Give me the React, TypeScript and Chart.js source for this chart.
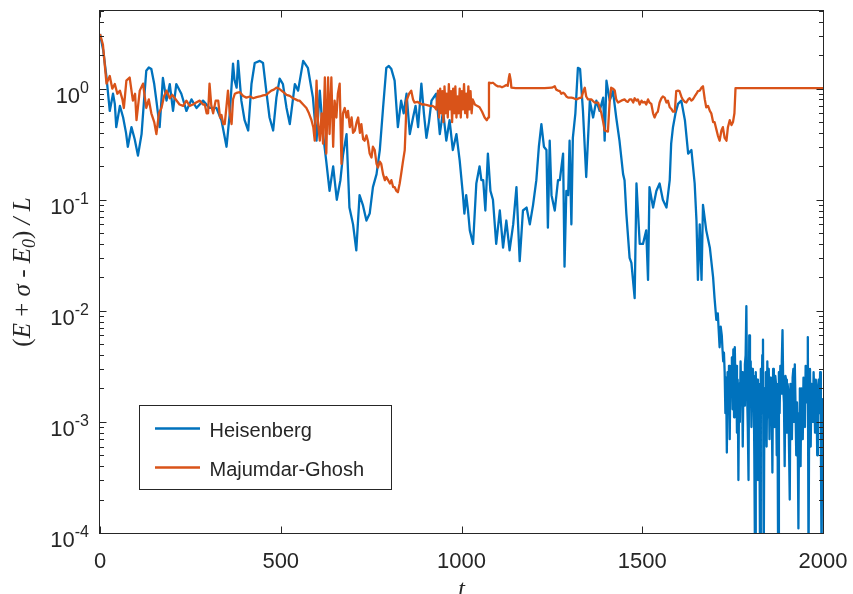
import React, { useEffect, useRef } from "react";
import { Chart, registerables } from "chart.js";

Chart.register(...registerables);

// ---------------- data ----------------
const seriesNames = ["Heisenberg", "Majumdar-Ghosh"];
const seriesColors = ["#0072BD", "#D95319"];

const heisT = [
  0, 9, 18, 27, 36, 41, 45, 55, 64, 72,
  77, 87, 96, 105, 115, 122, 128, 135, 142, 150,
  156, 165, 174, 184, 193, 202, 211, 225, 239, 253,
  267, 285, 303, 322, 336, 350, 359, 368, 372, 378,
  382, 391, 400, 410, 419, 428, 442, 451, 460, 469,
  479, 488, 497, 506, 516, 525, 539, 548, 562, 575,
  589, 599, 608, 617, 626, 635, 645, 655, 665, 672,
  682, 690, 700, 709, 718, 727, 737, 746, 755, 765,
  774, 783, 792, 799, 806, 815, 824, 833, 840, 848,
  857, 866, 873, 880, 889, 896, 903, 910, 917, 930,
  940, 949, 958, 967, 976, 986, 995, 1004, 1008, 1013,
  1018, 1023, 1032, 1041, 1050, 1055, 1060, 1066, 1073, 1080,
  1087, 1096, 1106, 1115, 1124, 1133, 1143, 1152, 1161, 1170,
  1180, 1189, 1198, 1207, 1214, 1221, 1228, 1235, 1239, 1244,
  1249, 1258, 1267, 1272, 1281, 1285, 1290, 1295, 1299, 1304,
  1308, 1315, 1322, 1328, 1336, 1345, 1355, 1364, 1373, 1382,
  1392, 1396, 1401, 1410, 1419, 1428, 1437, 1447, 1451, 1456,
  1465, 1470, 1479, 1484, 1493, 1502, 1511, 1516, 1520, 1530,
  1539, 1548, 1557, 1567, 1576, 1580, 1585, 1592, 1599, 1608,
  1618, 1627, 1636, 1645, 1650, 1654, 1659, 1664, 1668, 1677,
  1687, 1696, 1700, 1705, 1709, 1714, 1717,
  1720, 1722, 1724, 1726, 1728, 1730, 1732, 1734, 1736, 1738,
  1740, 1742, 1744, 1746, 1748, 1750, 1752, 1754, 1756, 1758,
  1760, 1762, 1764, 1766, 1768, 1770, 1772, 1774, 1776, 1778,
  1780, 1782, 1784, 1786, 1788, 1790, 1792, 1794, 1796, 1798,
  1800, 1802, 1804, 1806, 1808, 1810, 1812, 1814, 1816, 1818,
  1820, 1822, 1824, 1826, 1828, 1830, 1832, 1834, 1836, 1838,
  1840, 1842, 1844, 1846, 1848, 1850, 1852, 1854, 1856, 1858,
  1860, 1862, 1864, 1866, 1868, 1870, 1872, 1874, 1876, 1878,
  1880, 1882, 1884, 1886, 1888, 1890, 1892, 1894, 1896, 1898,
  1900, 1902, 1904, 1906, 1908, 1910, 1912, 1914, 1916, 1918,
  1920, 1922, 1924, 1926, 1928, 1930, 1932, 1934, 1936, 1938,
  1940, 1942, 1944, 1946, 1948, 1950, 1952, 1954, 1956, 1958,
  1960, 1962, 1964, 1966, 1968, 1970, 1972, 1974, 1976, 1978,
  1980, 1982, 1984, 1986, 1988, 1990, 1992, 1994, 1996, 1998,
  2000,
];

const heisV = [
  3.1, 2.2, 1.26, 0.63, 0.9, 0.73, 0.45, 0.7, 0.55, 0.4,
  0.3, 0.45, 0.35, 0.25, 0.39, 0.8, 1.45, 1.55, 1.5, 1.1,
  0.78, 0.45, 1.25, 0.78, 1.1, 0.63, 1.1, 0.9, 0.63, 0.8,
  0.67, 0.78, 0.67, 0.67, 0.52, 0.3, 0.6, 1.68, 1.2, 1.02,
  1.78, 0.78, 0.52, 0.42, 1.1, 1.7, 1.78, 1.7, 0.95, 0.55,
  0.42, 0.83, 1.23, 1.1, 0.67, 0.48, 1.1, 0.96, 1.78, 1.54,
  0.83, 0.34, 0.96, 0.39, 0.22, 0.12, 0.2, 0.1, 0.15, 0.25,
  0.39, 0.085, 0.06, 0.035, 0.11, 0.09, 0.065, 0.075, 0.13, 0.17,
  0.28, 0.67, 1.54, 1.6, 1.5, 1.18, 0.45, 0.78, 0.6, 0.9,
  0.39, 0.55, 0.7, 0.45, 1.11, 0.6, 0.36, 0.5, 0.78, 0.9,
  0.39, 0.63, 0.34, 0.52, 0.28, 0.39, 0.225, 0.11, 0.075, 0.11,
  0.08, 0.053, 0.04, 0.14, 0.2, 0.15, 0.15, 0.08, 0.26, 0.12,
  0.1, 0.04, 0.08, 0.037, 0.065, 0.035, 0.06, 0.13, 0.028, 0.08,
  0.085, 0.06, 0.09, 0.15, 0.3, 0.48, 0.3, 0.28, 0.056, 0.34,
  0.11, 0.08, 0.15, 0.15, 0.26, 0.025, 0.12, 0.11, 0.34, 0.06,
  0.36, 0.6, 1.54, 1.5, 0.63, 0.16, 0.78, 0.55, 0.78, 0.63,
  0.83, 0.34, 1.18, 0.78, 0.95, 0.55, 0.34, 0.17, 0.15, 0.075,
  0.03, 0.027, 0.013, 0.14, 0.04, 0.04, 0.053, 0.019, 0.13, 0.085,
  0.12, 0.14, 0.1, 0.085, 0.15, 0.32, 0.45, 0.6, 0.73, 0.78,
  0.52, 0.26, 0.28, 0.14, 0.065, 0.019, 0.06, 0.019, 0.09, 0.053,
  0.037, 0.02, 0.013, 0.0083, 0.0095, 0.0047, 0.0072,
  0.006, 0.0045, 0.0035, 0.0042, 0.0028, 0.0012, 0.0025, 0.00053, 0.0028, 0.0016,
  0.0032, 0.0007, 0.003, 0.0018, 0.0038, 0.0013, 0.0045, 0.0011, 0.0047, 0.002,
  0.0032, 0.0008, 0.0024, 0.0003, 0.0022, 0.001, 0.0035, 0.0016, 0.0028, 0.0006,
  0.0025, 0.0014, 0.0033, 0.004, 0.011, 0.0018, 0.0009, 0.0003, 0.006, 0.0022,
  0.0035, 0.0009, 0.003, 0.0015, 0.0026, 0.0005, 0.00005, 0.0028, 0.0012, 0.0024,
  0.0003, 0.0022, 0.0009, 0.00005, 0.003, 0.0012, 0.004, 0.0055, 0.00005, 0.002,
  0.0008, 0.0028, 0.0006, 0.0035, 0.0011, 0.003, 0.0007, 0.0025, 0.0012, 0.0018,
  0.00035, 0.003, 0.0014, 0.0009, 0.0026, 0.0022, 0.0005, 0.0015, 0.00005, 0.0028,
  0.0012, 0.0032, 0.0018, 0.0035, 0.0067, 0.002, 0.0015, 0.0004, 0.0026, 0.0024,
  0.0008, 0.0022, 0.0019, 0.0006, 0.0002, 0.0022, 0.0012, 0.0007, 0.0025, 0.003,
  0.001, 0.0033, 0.0014, 0.0005, 0.0015, 0.0008, 0.00011, 0.0012, 0.002, 0.0004,
  0.002, 0.001, 0.0007, 0.0025, 0.0016, 0.0009, 0.0032, 0.002, 0.0015, 0.0058,
  0.00005, 0.0018, 0.003, 0.0006, 0.0022, 0.0014, 0.001, 0.0028, 0.0018, 0.0008,
  0.0024, 0.002, 0.0005, 0.0016, 0.0024, 0.0012, 0.0028, 0.0009, 0.00005, 0.0016,
  0.0007,
];

const mgT = [
  0, 8, 18, 27, 34, 41, 48, 55, 62, 66,
  73, 82, 91, 97, 101, 110, 119, 128, 135, 142,
  150, 156, 163, 170, 177, 184, 193, 200, 207, 220,
  230, 239, 248, 257, 266, 276, 285, 290, 295, 299,
  303, 308, 313, 320, 327, 332, 336, 341, 345, 350,
  354, 359, 364, 368, 373, 380, 387, 396, 405, 415,
  424, 433, 442, 451, 460, 467, 474, 481, 488, 495,
  502, 509, 516, 525, 534, 541, 548, 552, 562, 571,
  578, 585, 590, 594, 599, 603, 608, 613, 617, 622,
  626, 631, 635, 640, 645, 649, 654, 658, 663, 668,
  672, 677, 682, 686, 691, 696, 700, 705, 710, 714,
  719, 723, 728, 732, 737, 741, 746, 751, 755, 760,
  765, 769, 774, 778, 783, 788, 792, 797, 802, 806,
  811, 815, 820, 824, 829, 833, 838, 843, 846, 848,
  855, 861, 866, 870, 878, 885, 891, 898, 905, 912,
  919, 926, 930, 935, 938, 941, 944, 947, 950, 953,
  956, 959, 962, 965, 968, 971, 974, 977, 980, 983,
  986, 989, 992, 995, 998, 1001, 1004, 1007, 1010, 1013,
  1016, 1019, 1022, 1025, 1028, 1031, 1037, 1043, 1050, 1057,
  1064, 1070, 1074, 1076, 1082, 1087, 1094, 1100, 1106, 1112,
  1118, 1124, 1128, 1131, 1133, 1136, 1138, 1150, 1170, 1200,
  1230, 1250, 1258, 1262, 1267, 1272, 1276, 1281, 1285, 1290,
  1295, 1304, 1310, 1318, 1325, 1332, 1337, 1341, 1345, 1350,
  1359, 1368, 1378, 1387, 1392, 1396, 1405, 1410, 1414, 1419,
  1424, 1428, 1433, 1442, 1451, 1456, 1460, 1465, 1470, 1475,
  1479, 1484, 1488, 1493, 1498, 1502, 1507, 1511, 1516, 1520,
  1525, 1530, 1534, 1539, 1543, 1548, 1553, 1557, 1562, 1567,
  1571, 1576, 1580, 1585, 1590, 1594, 1599, 1603, 1608, 1612,
  1618, 1622, 1627, 1631, 1636, 1640, 1645, 1650, 1654, 1659,
  1664, 1668, 1673, 1677, 1682, 1687, 1691, 1696, 1700, 1705,
  1709, 1714, 1719, 1723, 1728, 1733, 1737, 1742, 1747, 1751,
  1755, 1758, 2000,
];

const mgV = [
  3.1, 2.5, 1.11, 1.3, 1.0, 1.1, 0.9, 0.96, 0.8, 0.67,
  1.18, 1.26, 0.78, 0.9, 0.52, 0.96, 1.11, 0.67, 0.8, 0.6,
  0.5, 0.39, 0.6, 0.67, 0.85, 0.96, 0.82, 0.88, 0.82, 0.72,
  0.7, 0.78, 0.7, 0.72, 0.75, 0.78, 0.72, 0.72, 0.6, 0.6,
  1.11, 0.7, 0.6, 0.78, 0.78, 0.55, 0.58, 0.48, 0.48, 0.7,
  0.96, 0.6, 0.48, 0.8, 0.9, 0.92, 0.93, 0.86, 0.83, 0.85,
  0.82, 0.84, 0.85, 0.87, 0.88, 0.92, 0.96, 0.98, 1.02, 1.0,
  0.96, 0.92, 0.88, 0.86, 0.82, 0.8, 0.78, 0.78, 0.72, 0.67,
  0.6, 0.52, 0.45, 0.34, 1.18, 0.5, 0.34, 0.6, 0.32, 1.26,
  0.26, 1.26, 0.39, 1.26, 0.3, 0.78, 0.55, 0.9, 1.11, 0.21,
  0.6, 0.67, 0.55, 0.63, 0.45, 0.55, 0.4, 0.42, 0.5, 0.55,
  0.4, 0.48, 0.35, 0.34, 0.38, 0.34, 0.26, 0.24, 0.3, 0.28,
  0.21, 0.195, 0.22, 0.21, 0.17, 0.15, 0.16, 0.15, 0.14, 0.15,
  0.13, 0.13, 0.12, 0.117, 0.14, 0.17, 0.22, 0.28, 0.5, 0.78,
  0.9, 0.96, 0.8, 0.75, 0.76, 0.74, 0.72, 0.72, 0.71, 0.7,
  0.7, 0.68, 0.65, 0.96, 0.55, 1.0, 0.6, 0.95, 0.5, 1.05,
  0.6, 0.9, 0.55, 1.1, 0.65, 0.95, 0.5, 1.0, 0.6, 1.05,
  0.55, 0.85, 0.6, 1.0, 0.55, 0.95, 0.65, 1.1, 0.6, 0.9,
  0.55, 1.05, 0.65, 0.95, 0.6, 0.8, 0.72, 0.7, 0.68, 0.62,
  0.55, 0.52, 0.55, 1.13, 1.12, 1.13, 1.08, 1.05, 1.05, 1.03,
  1.05, 1.08, 1.06, 1.25, 1.35, 1.2, 1.02, 1.01, 1.01, 1.01,
  1.01, 1.02, 1.05, 0.98, 0.96, 0.95, 0.9, 0.92, 0.9, 0.85,
  0.83, 0.83, 0.82, 0.8, 0.82, 0.83, 0.95, 1.02, 0.85, 0.8,
  0.8, 0.75, 0.75, 0.6, 0.5, 0.42, 0.41, 0.78, 1.02, 1.0,
  0.96, 0.8, 0.75, 0.78, 0.8, 0.77, 0.76, 0.8, 0.8, 0.75,
  0.82, 0.78, 0.8, 0.72, 0.78, 0.75, 0.76, 0.72, 0.8, 0.75,
  0.73, 0.6, 0.55, 0.6, 0.62, 0.75, 0.82, 0.85, 0.83, 0.75,
  0.78, 0.68, 0.66, 0.62, 0.62, 0.95, 0.96, 0.95, 0.85, 0.8,
  0.76, 0.75, 0.8, 0.82, 0.78, 0.8, 0.85, 0.9, 0.95, 0.96,
  1.02, 1.05, 0.8, 0.68, 0.7, 0.63, 0.6, 0.5, 0.5, 0.43,
  0.38, 0.34, 0.42, 0.45, 0.36, 0.34, 0.45, 0.52, 0.47, 0.5,
  0.6, 1.01, 1.01,
];

const xTickValues = [0, 500, 1000, 1500, 2000];
const yMajorExponents = [-4, -3, -2, -1, 0];
const yMinorMultipliers = [2, 3, 4, 5, 6, 7, 8, 9];
const X_MIN = 0;
const X_MAX = 2000;
const Y_MIN = 1e-4;
const Y_MAX = 5;

// ---------------- style ----------------
const AXIS_COLOR = "#262626";
const SANS = '"Liberation Sans", Arial, Helvetica, sans-serif';
const SERIF = '"Liberation Serif", "Times New Roman", serif';
const LINE_WIDTH = 2.3;

const yTickValues: number[] = [];
yMajorExponents.forEach((e) => {
  const base = Math.pow(10, e);
  yTickValues.push(base);
  yMinorMultipliers.forEach((m) => {
    const v = m * base;
    if (v <= Y_MAX * 1.0000001) yTickValues.push(v);
  });
});

function isDecade(v: number) {
  const l = Math.log10(v);
  return Math.abs(l - Math.round(l)) < 1e-9;
}

function toPoints(ts: number[], vs: number[]) {
  const n = Math.min(ts.length, vs.length);
  const out: { x: number; y: number }[] = [];
  for (let i = 0; i < n; i++) out.push({ x: ts[i], y: vs[i] });
  return out;
}

const matlabAxes = {
  id: "matlabAxes",
  afterDraw(chart: any) {
    const ctx = chart.ctx as CanvasRenderingContext2D;
    const { left, right, top, bottom } = chart.chartArea;
    const xs = chart.scales.x;
    const ys = chart.scales.y;
    const L = left - 0.5;
    const R = right + 0.5;
    const T = top - 0.5;
    const B = bottom + 0.5;
    ctx.save();

    // ticks
    ctx.strokeStyle = AXIS_COLOR;
    ctx.lineWidth = 1;
    ctx.beginPath();
    xs.ticks.forEach((t: any) => {
      const px = Math.round(xs.getPixelForValue(t.value)) + 0.5;
      ctx.moveTo(px, B);
      ctx.lineTo(px, B - 7);
      ctx.moveTo(px, T);
      ctx.lineTo(px, T + 7);
    });
    ys.ticks.forEach((t: any) => {
      const py = Math.round(ys.getPixelForValue(t.value)) + 0.5;
      const len = isDecade(t.value) ? 7 : 4.5;
      ctx.moveTo(L, py);
      ctx.lineTo(L + len, py);
      ctx.moveTo(R, py);
      ctx.lineTo(R - len, py);
    });
    ctx.stroke();

    // box
    ctx.strokeRect(L, T, R - L, B - T);

    // x tick labels
    ctx.fillStyle = AXIS_COLOR;
    ctx.font = `22px ${SANS}`;
    ctx.textAlign = "center";
    ctx.textBaseline = "alphabetic";
    xs.ticks.forEach((t: any) => {
      const px = xs.getPixelForValue(t.value);
      ctx.fillText(String(t.value), px, bottom + 34.5);
    });

    // y tick labels (10^e)
    ctx.textAlign = "left";
    ys.ticks.forEach((t: any) => {
      if (!isDecade(t.value)) return;
      const e = Math.round(Math.log10(t.value));
      const py = ys.getPixelForValue(t.value);
      const expStr = String(e);
      ctx.font = `16px ${SANS}`;
      const we = ctx.measureText(expStr).width;
      ctx.font = `22px ${SANS}`;
      const wb = ctx.measureText("10").width;
      const rightEdge = left - 11;
      ctx.fillText("10", rightEdge - we - wb, py + 14);
      ctx.font = `16px ${SANS}`;
      ctx.fillText(expStr, rightEdge - we, py + 4);
    });

    // x title
    ctx.font = `italic 24px ${SERIF}`;
    ctx.textAlign = "center";
    ctx.fillText("t", (left + right) / 2, bottom + 63);

    // y title (rotated)
    const segs = [
      { s: "(", font: `25px ${SERIF}`, dy: 0 },
      { s: "E", font: `italic 25px ${SERIF}`, dy: 0 },
      { s: " + ", font: `25px ${SERIF}`, dy: 0 },
      { s: "σ", font: `italic 25px ${SERIF}`, dy: 0 },
      { s: " - ", font: `25px ${SERIF}`, dy: 0 },
      { s: "E", font: `italic 25px ${SERIF}`, dy: 0 },
      { s: "0", font: `italic 18px ${SERIF}`, dy: 5 },
      { s: ")", font: `25px ${SERIF}`, dy: 0 },
      { s: " / ", font: `italic 25px ${SERIF}`, dy: 0 },
      { s: "L", font: `italic 25px ${SERIF}`, dy: 0 },
    ];
    let total = 0;
    const widths = segs.map((g) => {
      ctx.font = g.font;
      const w = ctx.measureText(g.s).width;
      total += w;
      return w;
    });
    ctx.save();
    ctx.translate(30, (top + bottom) / 2);
    ctx.rotate(-Math.PI / 2);
    ctx.textAlign = "left";
    let cx = -total / 2;
    segs.forEach((g, i) => {
      ctx.font = g.font;
      ctx.fillText(g.s, cx, g.dy);
      cx += widths[i];
    });
    ctx.restore();

    // legend
    const lx = 139.5;
    const ly = 405.5;
    const lw = 252;
    const lh = 84;
    ctx.fillStyle = "#ffffff";
    ctx.fillRect(lx, ly, lw, lh);
    ctx.strokeStyle = AXIS_COLOR;
    ctx.lineWidth = 1;
    ctx.strokeRect(lx, ly, lw, lh);
    const rows = [428.5, 467.5];
    chart.data.datasets.forEach((ds: any, i: number) => {
      const y = rows[i];
      ctx.strokeStyle = ds.borderColor;
      ctx.lineWidth = LINE_WIDTH;
      ctx.beginPath();
      ctx.moveTo(155, y);
      ctx.lineTo(200, y);
      ctx.stroke();
      ctx.fillStyle = AXIS_COLOR;
      ctx.font = `20px ${SANS}`;
      ctx.textAlign = "left";
      ctx.textBaseline = "alphabetic";
      ctx.fillText(ds.label, 209.5, y + 8);
    });

    ctx.restore();
  },
};

export default function App() {
  const ref = useRef<HTMLCanvasElement | null>(null);
  useEffect(() => {
    document.body.style.margin = "0";
    document.documentElement.style.overflow = "hidden";
    document.body.style.overflow = "hidden";
    if (!ref.current) return;
    const chart = new Chart(ref.current, {
      type: "line",
      data: {
        datasets: [
          {
            label: seriesNames[0],
            data: toPoints(heisT, heisV),
            borderColor: seriesColors[0],
            backgroundColor: seriesColors[0],
            borderWidth: LINE_WIDTH,
            pointRadius: 0,
            tension: 0,
            fill: false,
            borderJoinStyle: "round",
            order: 1,
          },
          {
            label: seriesNames[1],
            data: toPoints(mgT, mgV),
            borderColor: seriesColors[1],
            backgroundColor: seriesColors[1],
            borderWidth: LINE_WIDTH,
            pointRadius: 0,
            tension: 0,
            fill: false,
            borderJoinStyle: "round",
            order: 0,
          },
        ],
      },
      options: {
        animation: false,
        responsive: true,
        maintainAspectRatio: false,
        events: [],
        layout: { padding: { top: 11, right: 30, left: 0, bottom: 0 } },
        plugins: {
          legend: { display: false },
          tooltip: { enabled: false },
        },
        scales: {
          x: {
            type: "linear",
            min: X_MIN,
            max: X_MAX,
            ticks: { display: false },
            grid: { display: false },
            border: { display: false },
            afterBuildTicks: (s: any) => {
              s.ticks = xTickValues.map((v) => ({ value: v }));
            },
            afterFit: (s: any) => {
              s.height = 61;
            },
          },
          y: {
            type: "logarithmic",
            min: Y_MIN,
            max: Y_MAX,
            ticks: { display: false },
            grid: { display: false },
            border: { display: false },
            afterBuildTicks: (s: any) => {
              s.ticks = yTickValues.map((v) => ({ value: v, major: isDecade(v) }));
            },
            afterFit: (s: any) => {
              s.width = 100;
            },
          },
        },
      } as any,
      plugins: [matlabAxes as any],
    });
    return () => chart.destroy();
  }, []);
  return (
    <div style={{ width: 853, height: 594, position: "relative" }}>
      <canvas ref={ref} />
    </div>
  );
}
